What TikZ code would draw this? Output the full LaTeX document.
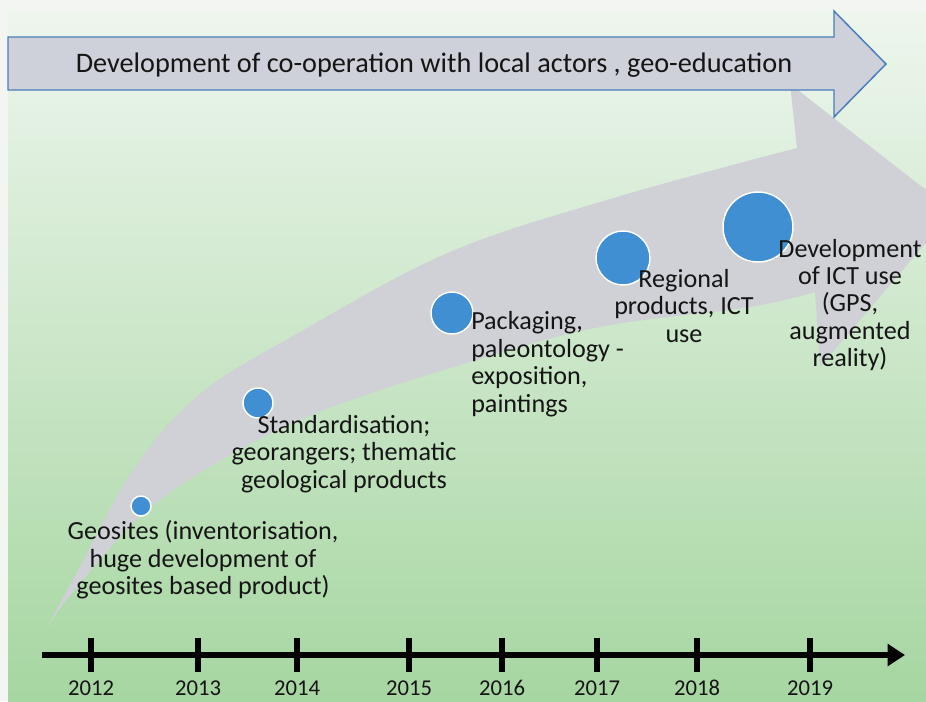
\documentclass[tikz,border=0pt]{standalone}
\usepackage{fontspec}
\setmainfont{Carlito}
\usetikzlibrary{arrows.meta}
\definecolor{outside}{HTML}{F3F5F3}
\definecolor{bgtop}{HTML}{EEF6EE}
\definecolor{bgmid}{HTML}{CDE7C9}
\definecolor{bgbot}{HTML}{A6D6A1}
\definecolor{greyarrow}{HTML}{CFD1D6}
\definecolor{toparrowfill}{HTML}{CED1D9}
\definecolor{toparrowline}{HTML}{4A7EBB}
\definecolor{dotblue}{HTML}{3F8FD2}
\definecolor{txt}{HTML}{151515}
\tikzset{
  labeltext/.style={text=txt, font=\fontsize{19.6pt}{20.6pt}\selectfont, align=center, inner sep=0pt},
  toptext/.style={text=txt, font=\fontsize{21.2pt}{24pt}\selectfont, inner sep=0pt},
  yeartext/.style={text=txt, font=\fontsize{17pt}{20pt}\selectfont, inner sep=0pt, anchor=base},
  dot/.style={circle, fill=dotblue, draw=white, line width=1.1pt, inner sep=0pt},
  tickline/.style={line width=4.2pt, black},
  timeline/.style={line width=4.6pt, black, -{Triangle[length=13pt,width=16pt]}},
  toparrow/.style={fill=toparrowfill, draw=toparrowline, line width=1.1pt, line join=miter},
}
\begin{document}
\begin{tikzpicture}[x=0.75pt,y=-0.75pt]
\useasboundingbox (0,0) rectangle (926,701);
\fill[outside] (0,0) rectangle (926,701);
\shade[top color=bgtop, middle color=bgmid, bottom color=bgbot] (8,10) rectangle (926,701);

% big curved grey arrow
\begin{scope}
\clip (8,10) rectangle (926,701);
\fill[greyarrow] plot[smooth,tension=0.6] coordinates {(43,635) (73,592) (160,500) (300,420) (467,363) (600,327) (750,307) (815,292)}
  -- (820,367) -- (953,211) -- (790,84) -- (797,148)
  -- plot[smooth,tension=0.6] coordinates {(797,148) (617,197) (450,252) (300,332) (200,394) (133,470) (77,572) (43,635)} -- cycle;
\end{scope}

% top arrow
\draw[toparrow] (8,37) -- (834,37) -- (834,11) -- (886,64) -- (834,117) -- (834,90) -- (8,90) -- cycle;
\node[toptext] (toplabel) at (434,65) {Development of co-operation with local actors , geo-education};

% milestones
\node[dot, minimum size=15pt] (d1) at (141,506) {};
\node[dot, minimum size=22.5pt] (d2) at (258,403) {};
\node[dot, minimum size=31.5pt] (d3) at (452,313) {};
\node[dot, minimum size=40.5pt] (d4) at (623,258) {};
\node[dot, minimum size=52.5pt] (d5) at (758,227) {};

\node[labeltext] (t1) at (203,560) {Geosites (inventorisation,\\huge development of\\geosites based product)};
\node[labeltext] (t2) at (344,454) {Standardisation;\\georangers; thematic\\geological products};
\node[labeltext, anchor=west, align=left] (t3) at (471,364) {Packaging,\\paleontology -\\exposition,\\paintings};
\node[labeltext] (t4) at (684,306) {Regional\\products, ICT\\use};
\node[labeltext] (t5) at (850,305) {Development\\of ICT use\\(GPS,\\augmented\\reality)};

% timeline
\coordinate (tl0) at (42,655);
\coordinate (tl1) at (905,655);
\draw[timeline] (tl0) -- (tl1);
\foreach \x/\yr in {91/2012,198/2013,297/2014,409/2015,502/2016,597/2017,697/2018,810/2019}{
  \draw[tickline] (\x,638) -- (\x,672);
  \node[yeartext] (y\yr) at (\x,695) {\yr};
}
\end{tikzpicture}
\end{document}
